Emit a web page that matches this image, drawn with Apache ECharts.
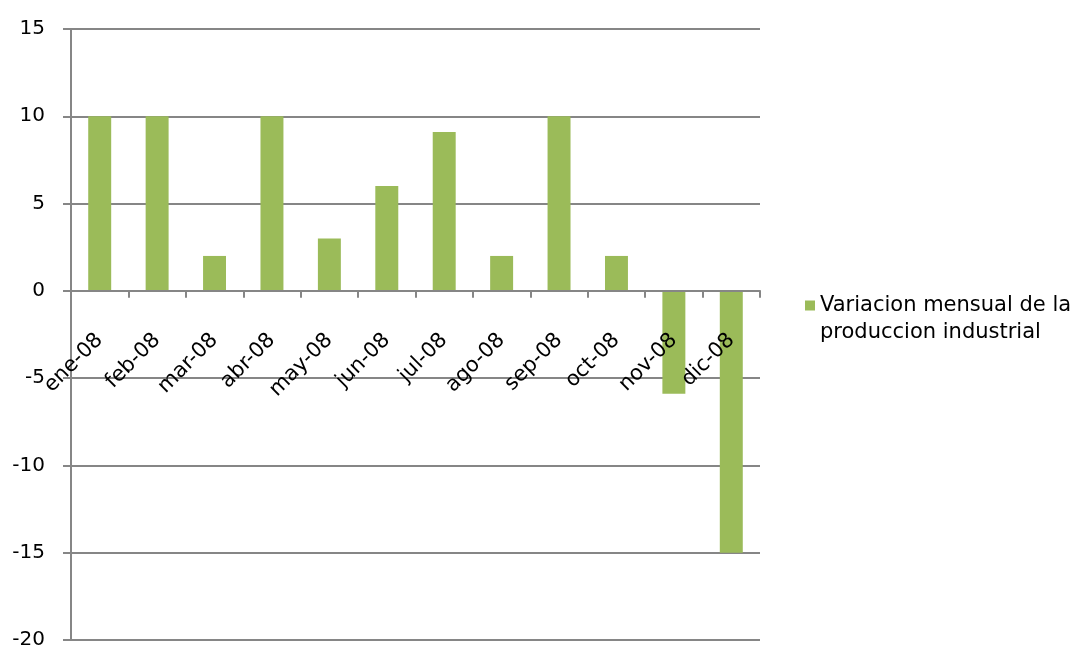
<!DOCTYPE html>
<html>
<head>
<meta charset="utf-8">
<script src="https://cdn.jsdelivr.net/npm/echarts@6/dist/echarts.min.js"></script>
<style>html,body{margin:0;padding:0;background:#fff}#c{width:1084px;height:650px}</style>
</head>
<body>
<div id="c"></div>
<script>
var categories = ['ene-08','feb-08','mar-08','abr-08','may-08','jun-08','jul-08','ago-08','sep-08','oct-08','nov-08','dic-08'];
var values = [10, 10, 2, 10, 3, 6, 9.1, 2, 10, 2, -5.9, -15];
var seriesName = 'Variacion mensual de la\nproduccion industrial';
var yMin = -20, yMax = 15, yInterval = 5;

var FONT = 'DejaVu Sans';
var gridTop = 29, gridBottom = 10, H = 650;
var plotH = H - gridTop - gridBottom;
var zeroOffset = -plotH * (0 - yMin) / (yMax - yMin);

var chart = echarts.init(document.getElementById('c'), null, {renderer: 'canvas'});
chart.setOption({
  animation: false,
  backgroundColor: '#ffffff',
  grid: {left: 71, right: 324, top: gridTop, bottom: gridBottom, containLabel: false, outerBoundsMode: 'none'},
  legend: {
    left: 800, top: 260,
    itemWidth: 10, itemHeight: 10, itemGap: 0,
    icon: 'rect',
    formatter: function (name) { return '\n' + name; },
    textStyle: {fontFamily: FONT, fontSize: 21, color: '#000', lineHeight: 27},
    data: [seriesName]
  },
  xAxis: {
    type: 'category',
    data: categories,
    position: 'bottom',
    offset: zeroOffset,
    z: 5,
    axisLine: {onZero: false, lineStyle: {color: '#868686', width: 2}},
    axisTick: {show: true, length: 7, lineStyle: {color: '#868686', width: 2}},
    axisLabel: {rotate: 45, margin: 46, fontFamily: FONT, fontSize: 21, color: '#000', interval: 0, hideOverlap: false}
  },
  yAxis: {
    type: 'value',
    min: yMin, max: yMax, interval: yInterval,
    axisLine: {show: true, lineStyle: {color: '#868686', width: 2}},
    axisTick: {show: true, length: 8, lineStyle: {color: '#868686', width: 2}},
    splitLine: {show: true, lineStyle: {color: '#868686', width: 2}},
    axisLabel: {margin: 26, fontFamily: FONT, fontSize: 20, color: '#000'}
  },
  series: [{
    name: seriesName,
    type: 'bar',
    data: values,
    barCategoryGap: '60%',
    itemStyle: {color: '#9BBB59'}
  }]
});
</script>
</body>
</html>
